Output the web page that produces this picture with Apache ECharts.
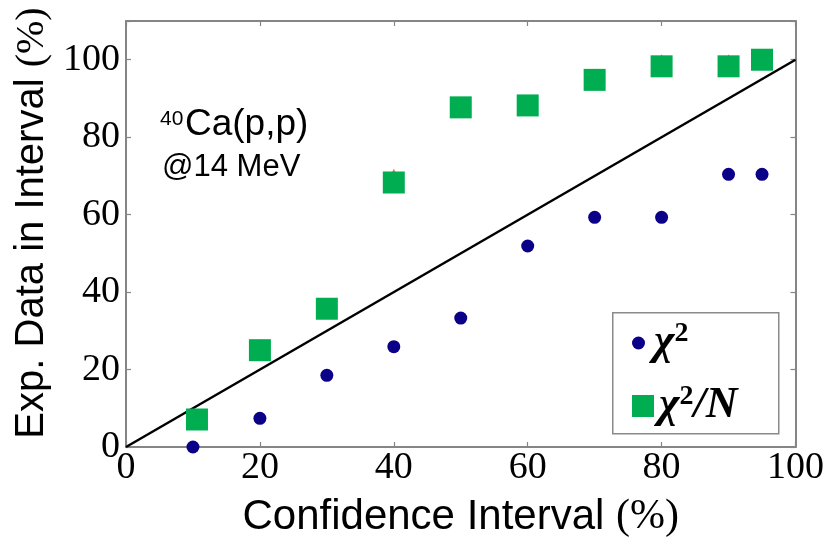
<!DOCTYPE html>
<html><head><meta charset="utf-8">
<script src="https://cdn.jsdelivr.net/npm/echarts@6/dist/echarts.min.js"></script>
<style>html,body{margin:0;padding:0;background:#fff}#c{width:827px;height:543px}</style>
</head><body><div id="c"></div>
<script>
// ---- data ----
const confidence = [10, 20, 30, 40, 50, 60, 70, 80, 90, 95];
const chi2 = [0, 7.4, 18.5, 25.9, 33.3, 51.9, 59.3, 59.3, 70.4, 70.4];
const confidenceN = [10.6, 20, 30, 40, 50, 60, 70, 80, 90, 95];
const chi2N = [7.1, 25.0, 35.7, 68.3, 87.7, 88.2, 94.8, 98.3, 98.3, 100];
const hiddenX = [40, 70, 80, 90];
const hiddenY = [70.4, 96.3, 100, 100];
const diagonalX = [0, 100];
const diagonalY = [0, 100];
const tickLabels = [0, 20, 40, 60, 80, 100];

const pairs = (xs, ys) => xs.map((x, i) => [x, ys[i]]);
const SERIF = '"Liberation Serif", "DejaVu Serif", serif';
const SANS = '"Liberation Sans", Arial, sans-serif';
const AX = '#858585';

const chart = echarts.init(document.getElementById('c'), null, {renderer: 'canvas'});
const tickFmt = v => tickLabels.indexOf(v) >= 0 ? String(v) : '';

const baseAxis = (extra) => Object.assign({
  type: 'value', min: 0, interval: 20,
  splitLine: {show: false},
  axisLine: {show: true, onZero: false, lineStyle: {color: AX, width: 2}},
  axisTick: {show: true, inside: true, length: 5, lineStyle: {color: AX, width: 1.2}},
}, extra);

const legendRich = {
  x: {fontFamily: SERIF, fontStyle: 'italic', fontWeight: 'bold', fontSize: 44, color: '#000', lineHeight: 46},
  s: {fontFamily: SERIF, fontWeight: 'bold', fontSize: 28, color: '#000', verticalAlign: 'top', lineHeight: 46},
  p: {fontSize: 10, width: 4}
};

chart.setOption({
  animation: false,
  backgroundColor: '#fff',
  grid: {left: 126, right: 30, top: 21, bottom: 91, containLabel: false},
  xAxis: [
    baseAxis({max: 100, position: 'bottom',
      name: 'Confidence Interval {s|(%)}', nameLocation: 'middle', nameGap: 49,
      nameTextStyle: {fontFamily: SANS, fontSize: 42, color: '#000',
        rich: {s: {fontFamily: SERIF, fontSize: 42, color: '#000'}}},
      axisLabel: {formatter: tickFmt, fontFamily: SERIF, fontSize: 38, color: '#000', margin: 2}}),
    baseAxis({max: 100, position: 'top', axisLabel: {show: false}})
  ],
  yAxis: [
    baseAxis({max: 110, position: 'left',
      name: 'Exp. Data in Interval {s|(%)}', nameLocation: 'middle', nameGap: 70, nameRotate: 90,
      nameTextStyle: {fontFamily: SANS, fontSize: 40, color: '#000', padding: [0, 0, 0, 22],
        rich: {s: {fontFamily: SERIF, fontSize: 40, color: '#000'}}},
      axisLabel: {formatter: tickFmt, fontFamily: SERIF, fontSize: 38, color: '#000', margin: 6}}),
    baseAxis({max: 110, position: 'right', axisLabel: {show: false}})
  ],
  legend: [
    {left: 632, top: 320, orient: 'vertical', padding: 0, itemWidth: 13, itemHeight: 13,
      data: [{name: 'chi2', icon: 'circle'}],
      formatter: () => '{p|}{x|χ}{s|2}',
      textStyle: {rich: legendRich}},
    {left: 632, top: 383, orient: 'vertical', padding: 0, itemWidth: 22, itemHeight: 22,
      data: [{name: 'chi2N', icon: 'rect'}],
      formatter: () => '{x|χ}{s|2}{x|/N}',
      textStyle: {rich: legendRich}}
  ],
  graphic: [
    {type: 'rect', left: 612, top: 312, z: 0,
      shape: {width: 166, height: 121}, style: {fill: '#fff', stroke: '#8a8a8a', lineWidth: 1.5}},
    {type: 'text', left: 160, top: 109, style: {text: '40', font: '21px ' + SANS, fill: '#000'}},
    {type: 'text', left: 185, top: 106, style: {text: 'Ca(p,p)', font: '37px ' + SANS, fill: '#000'}},
    {type: 'text', left: 162, top: 152, style: {text: '@14 MeV', font: '31px ' + SANS, fill: '#000'}}
  ],
  series: [
    {type: 'line', name: 'diag', data: pairs(diagonalX, diagonalY), symbol: 'none',
      lineStyle: {color: '#000', width: 2.5}, z: 2, silent: true},
    {type: 'scatter', name: 'chi2', data: pairs(confidence, chi2), symbol: 'circle', symbolSize: 13,
      itemStyle: {color: '#0b0088', opacity: 1}, z: 3},
    {type: 'scatter', name: 'hidden', data: pairs(hiddenX, hiddenY), symbol: 'triangle', symbolSize: 11,
      itemStyle: {color: '#ff6a35', opacity: 1}, z: 3},
    {type: 'scatter', name: 'chi2N', data: pairs(confidenceN, chi2N), symbol: 'rect', symbolSize: 22,
      itemStyle: {color: '#00ad50', opacity: 1}, z: 4}
  ]
});
</script></body></html>
